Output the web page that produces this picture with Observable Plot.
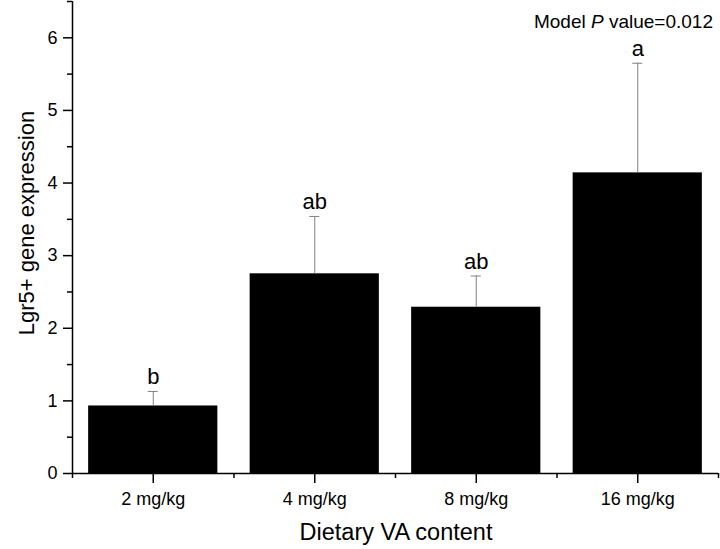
<!DOCTYPE html>
<html>
<head>
<meta charset="utf-8">
<script src="https://cdn.jsdelivr.net/npm/d3@7"></script>
<script src="https://cdn.jsdelivr.net/npm/@observablehq/plot@0.6"></script>
<style>
  html, body { margin: 0; padding: 0; background: #fff; }
  #chart svg { display: block; }
</style>
</head>
<body>
<div id="chart"></div>
<script>
const categories = ["2 mg/kg", "4 mg/kg", "8 mg/kg", "16 mg/kg"];
const means = [0.93, 2.75, 2.29, 4.14];
const errors = [0.20, 0.79, 0.43, 1.51];
const letters = ["b", "ab", "ab", "a"];
const yTicks = [0, 1, 2, 3, 4, 5, 6];
const yMinorTicks = [0.5, 1.5, 2.5, 3.5, 4.5, 5.5, 6.5];
const xTicks = [1, 2, 3, 4];
const xMinorTicks = [0.5, 1.5, 2.5, 3.5, 4.5];
const xTitle = "Dietary VA content";
const yTitle = "Lgr5+ gene expression";

const data = categories.map((c, i) => ({
  cat: c, pos: i + 1, mean: means[i], err: errors[i],
  top: means[i] + errors[i], letter: letters[i]
}));

const font = "'Liberation Sans', Arial, Helvetica, sans-serif";

const chart = Plot.plot({
  width: 720,
  height: 549,
  marginLeft: 72,
  marginRight: 2,
  marginTop: 1,
  marginBottom: 76,
  style: { fontFamily: font, color: "black", background: "white" },
  x: { type: "linear", domain: [0.5, 4.5], axis: null },
  y: { domain: [0, 6.5], axis: null },
  marks: [
    Plot.rectY(data, { x1: d => d.pos - 0.4, x2: d => d.pos + 0.4, y1: 0, y2: "mean", fill: "black" }),
    Plot.ruleX(data, { x: "pos", y1: "mean", y2: "top", stroke: "#808080", strokeWidth: 1 }),
    Plot.ruleY(data, { y: "top", x1: d => d.pos - 0.031, x2: d => d.pos + 0.031, stroke: "#808080", strokeWidth: 1 }),
    Plot.text(data, { x: "pos", y: "top", text: "letter", fontSize: 22, lineAnchor: "bottom", dy: -7, fill: "black" }),
    Plot.ruleX([0.5], { y1: 0, y2: 6.5, stroke: "black", strokeWidth: 1.5 }),
    Plot.ruleY([0], { x1: 0.5, x2: 4.5, stroke: "black", strokeWidth: 1.5 }),
    Plot.axisY(yTicks, { tickSize: 9, tickPadding: 6, fontSize: 18, strokeWidth: 1.5, tickFormat: d => String(d), label: null }),
    Plot.axisY(yMinorTicks, { tickSize: 5, tickFormat: () => "", strokeWidth: 1.5, label: null }),
    Plot.axisX(xTicks, { tickSize: 10, tickPadding: 9, fontSize: 18, strokeWidth: 1.5, tickFormat: d => categories[d - 1], label: null }),
    Plot.axisX(xMinorTicks, { tickSize: 5, tickFormat: () => "", strokeWidth: 1.5, label: null })
  ]
});

const svg = d3.select(chart);
svg.append("text")
  .attr("x", 396).attr("y", 540)
  .attr("text-anchor", "middle")
  .attr("font-family", font).attr("font-size", 23.5).attr("fill", "black")
  .text(xTitle);
svg.append("text")
  .attr("transform", "translate(34,223) rotate(-90)")
  .attr("text-anchor", "middle")
  .attr("font-family", font).attr("font-size", 22).attr("fill", "black")
  .text(yTitle);
const pv = svg.append("text")
  .attr("x", 713).attr("y", 28)
  .attr("text-anchor", "end")
  .attr("font-family", font).attr("font-size", 19).attr("fill", "black");
pv.append("tspan").text("Model ");
pv.append("tspan").attr("font-style", "italic").text("P");
pv.append("tspan").text(" value=0.012");

document.getElementById("chart").appendChild(chart);
</script>
</body>
</html>
